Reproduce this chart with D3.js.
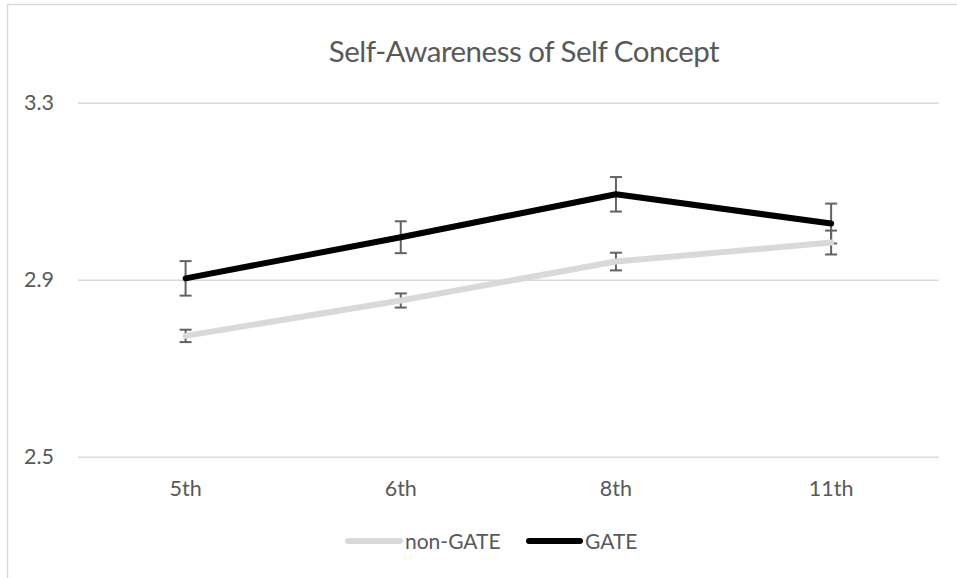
<!DOCTYPE html>
<html>
<head>
<meta charset="utf-8">
<script src="https://cdn.jsdelivr.net/npm/d3@7/dist/d3.min.js"></script>
<style>
  html, body { margin: 0; padding: 0; background: #fff; }
  svg { display: block; }
  text { font-family: Lato, "Open Sans", sans-serif; fill: #595959; }
</style>
</head>
<body>
<svg id="chart" width="957" height="578"></svg>
<script>
const title = "Self-Awareness of Self Concept";
const categories = ["5th", "6th", "8th", "11th"];
const yTicks = [2.5, 2.9, 3.3];
const seriesNames = ["non-GATE", "GATE"];
const nonGateValues = [2.773, 2.853, 2.941, 2.984];
const nonGateErrors = [0.014, 0.016, 0.020, 0.027];
const gateValues = [2.903, 2.996, 3.093, 3.027];
const gateErrors = [0.039, 0.036, 0.039, 0.045];

const series = [
  { name: seriesNames[0], values: nonGateValues, errors: nonGateErrors, color: "#d9d9d9" },
  { name: seriesNames[1], values: gateValues, errors: gateErrors, color: "#000000" }
];

const svg = d3.select("#chart");
const plot = { left: 78, right: 938.7, top: 102.7, bottom: 456.7 };

// outer chart border (chart area extends beyond the frame on the right/bottom)
svg.append("rect")
  .attr("x", 7.5).attr("y", 4.5)
  .attr("width", 1200).attr("height", 800)
  .attr("fill", "none").attr("stroke", "#d9d9d9").attr("stroke-width", 1.5);

const x = d3.scaleBand().domain(categories).range([plot.left, plot.right]).padding(0);
const y = d3.scaleLinear().domain([2.5, 3.3]).range([plot.bottom, plot.top]);
const cx = d => x(d) + x.bandwidth() / 2;

// gridlines + y labels
const yAxis = d3.axisLeft(y).tickValues(yTicks).tickFormat(d3.format(".1f"))
  .tickSize(-(plot.right - plot.left)).tickPadding(24);
const gy = svg.append("g").attr("transform", `translate(${plot.left},0)`).call(yAxis);
gy.select(".domain").remove();
gy.selectAll(".tick line").attr("stroke", "#d9d9d9").attr("stroke-width", 1.5);
gy.selectAll(".tick text").attr("font-size", 21.5).attr("fill", "#595959")
  .attr("font-family", "Lato, 'Open Sans', sans-serif");

// x labels
const xAxis = d3.axisBottom(x).tickSize(0).tickPadding(24);
const gx = svg.append("g").attr("transform", `translate(0,${plot.bottom})`).call(xAxis);
gx.select(".domain").remove();
gx.selectAll(".tick text").attr("font-size", 21.5).attr("fill", "#595959")
  .attr("font-family", "Lato, 'Open Sans', sans-serif");

// error bars (drawn beneath the lines)
const capHalf = 6;
series.forEach(s => {
  const g = svg.append("g");
  categories.forEach((c, i) => {
    const lo = y(s.values[i] - s.errors[i]), hi = y(s.values[i] + s.errors[i]);
    g.append("line").attr("x1", cx(c)).attr("x2", cx(c)).attr("y1", lo).attr("y2", hi)
      .attr("stroke", "#636363").attr("stroke-width", 2);
    [lo, hi].forEach(v => g.append("line")
      .attr("x1", cx(c) - capHalf).attr("x2", cx(c) + capHalf).attr("y1", v).attr("y2", v)
      .attr("stroke", "#636363").attr("stroke-width", 2));
  });
});

// lines
const line = d3.line().x((d, i) => cx(categories[i])).y(d => y(d));
series.forEach(s => {
  svg.append("path").datum(s.values).attr("d", line)
    .attr("fill", "none").attr("stroke", s.color).attr("stroke-width", 6)
    .attr("stroke-linecap", "round").attr("stroke-linejoin", "round");
});

// title
svg.append("text").attr("x", 524).attr("y", 62).attr("text-anchor", "middle")
  .attr("font-size", 29.5).attr("letter-spacing", -0.5).attr("fill", "#595959").text(title);

// legend
const legendY = 541;
const legendItems = [
  { x0: 348, x1: 400, tx: 405 },
  { x0: 529, x1: 580, tx: 585 }
];
series.forEach((s, i) => {
  const li = legendItems[i];
  svg.append("line").attr("x1", li.x0).attr("x2", li.x1).attr("y1", legendY).attr("y2", legendY)
    .attr("stroke", s.color).attr("stroke-width", 6).attr("stroke-linecap", "round");
  svg.append("text").attr("x", li.tx).attr("y", legendY + 8.3)
    .attr("font-size", 21).attr("fill", "#595959").text(s.name);
});
</script>
</body>
</html>
